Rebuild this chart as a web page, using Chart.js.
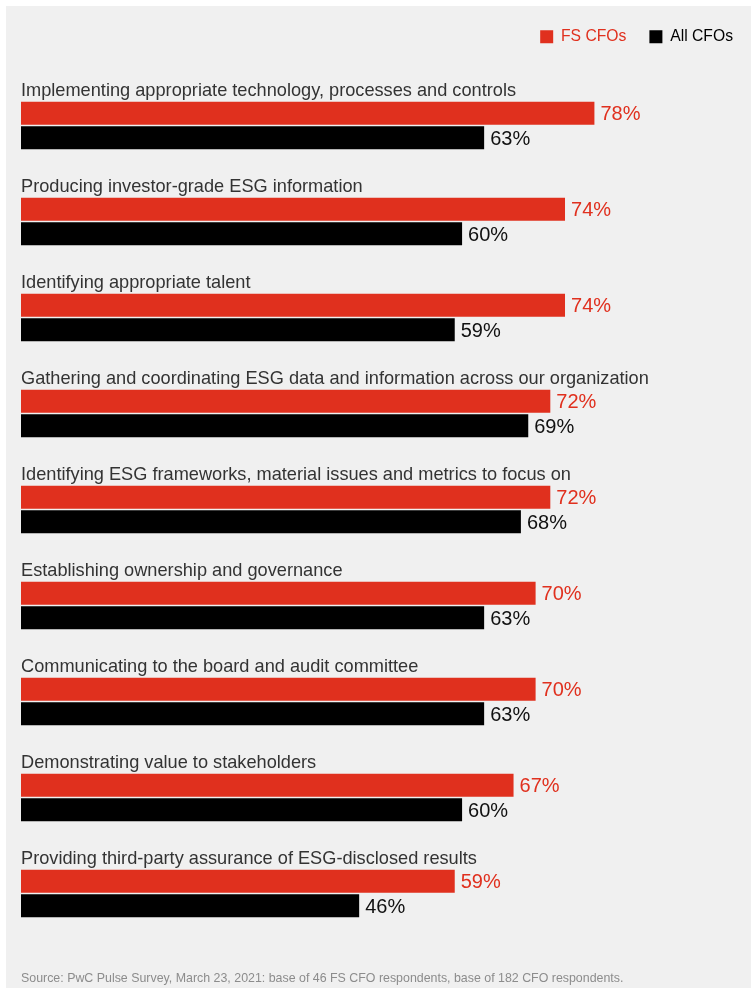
<!DOCTYPE html>
<html>
<head>
<meta charset="utf-8">
<script src="https://cdn.jsdelivr.net/npm/chart.js@4.4.1/dist/chart.umd.min.js"></script>
<style>
  body { margin: 0; background: #fff; }
  #wrap { position: relative; width: 751px; height: 988px; }
  #panel { position: absolute; left: 6px; top: 6px; right: 0; bottom: 0; background: #f0f0f0; }
  #box { position: absolute; left: 0; top: 0; width: 751px; height: 988px; }
  #source {
    position: absolute; left: 21px; top: 971px;
    font: 12.4px "Liberation Sans", Arial, sans-serif; color: #8c8c8c;
  }
</style>
</head>
<body>
<div id="wrap">
  <div id="panel"></div>
  <div id="box"><canvas id="chart"></canvas></div>
  <div id="source">Source: PwC Pulse Survey, March 23, 2021: base of 46 FS CFO respondents, base of 182 CFO respondents.</div>
</div>
<script>
const categories = [
  "Implementing appropriate technology, processes and controls",
  "Producing investor-grade ESG information",
  "Identifying appropriate talent",
  "Gathering and coordinating ESG data and information across our organization",
  "Identifying ESG frameworks, material issues and metrics to focus on",
  "Establishing ownership and governance",
  "Communicating to the board and audit committee",
  "Demonstrating value to stakeholders",
  "Providing third-party assurance of ESG-disclosed results"
];
const fsCfos = [78, 74, 74, 72, 72, 70, 70, 67, 59];
const allCfos = [63, 60, 59, 69, 68, 63, 63, 60, 46];

const RED = "#e0301e";
const FONT = "'Liberation Sans', Arial, sans-serif";

// make the legend block taller so the bars start lower
const legendSpacer = {
  id: "legendSpacer",
  beforeLayout(chart) {
    const lg = chart.legend;
    if (lg && !lg._spaced) {
      const fit = lg.fit;
      lg.fit = function () { fit.call(this); this.height = 71.5; };
      lg._spaced = true;
    }
  }
};

// category names above each pair, and values at bar ends
const barText = {
  id: "barText",
  afterDatasetsDraw(chart) {
    const ctx = chart.ctx;
    const left = chart.chartArea.left;
    ctx.save();
    ctx.textBaseline = "middle";
    ctx.textAlign = "left";
    chart.getDatasetMeta(0).data.forEach((bar, i) => {
      ctx.font = "18.2px " + FONT;
      ctx.fillStyle = "#333";
      ctx.fillText(categories[i], left, bar.y - bar.height / 2 - 11);
    });
    chart.data.datasets.forEach((ds, d) => {
      chart.getDatasetMeta(d).data.forEach((bar, i) => {
        ctx.font = "20px " + FONT;
        ctx.fillStyle = ds.labelColor;
        ctx.fillText(ds.data[i] + "%", bar.x + 6, bar.y + 1.5);
      });
    });
    ctx.restore();
  }
};

new Chart(document.getElementById("chart"), {
  type: "bar",
  data: {
    labels: categories,
    datasets: [
      { label: "FS CFOs", data: fsCfos, backgroundColor: RED, labelColor: RED },
      { label: "All CFOs", data: allCfos, backgroundColor: "#000", labelColor: "#111" }
    ]
  },
  options: {
    indexAxis: "y",
    responsive: true,
    maintainAspectRatio: false,
    animation: false,
    categoryPercentage: 0.51,
    barPercentage: 0.94,
    layout: { padding: { left: 21, right: -5, top: 6, bottom: 46.5 } },
    scales: {
      x: { display: false, min: 0, max: 99.3 },
      y: { display: false }
    },
    plugins: {
      tooltip: { enabled: false },
      legend: {
        position: "top",
        align: "end",
        labels: {
          boxWidth: 13,
          boxHeight: 13,
          padding: 23,
          font: { family: FONT, size: 15.7 },
          generateLabels(chart) {
            const items = Chart.defaults.plugins.legend.labels.generateLabels(chart);
            items.forEach(it => { it.fontColor = it.fillStyle; it.lineWidth = 0; });
            return items;
          }
        }
      }
    }
  },
  plugins: [legendSpacer, barText]
});
</script>
</body>
</html>
